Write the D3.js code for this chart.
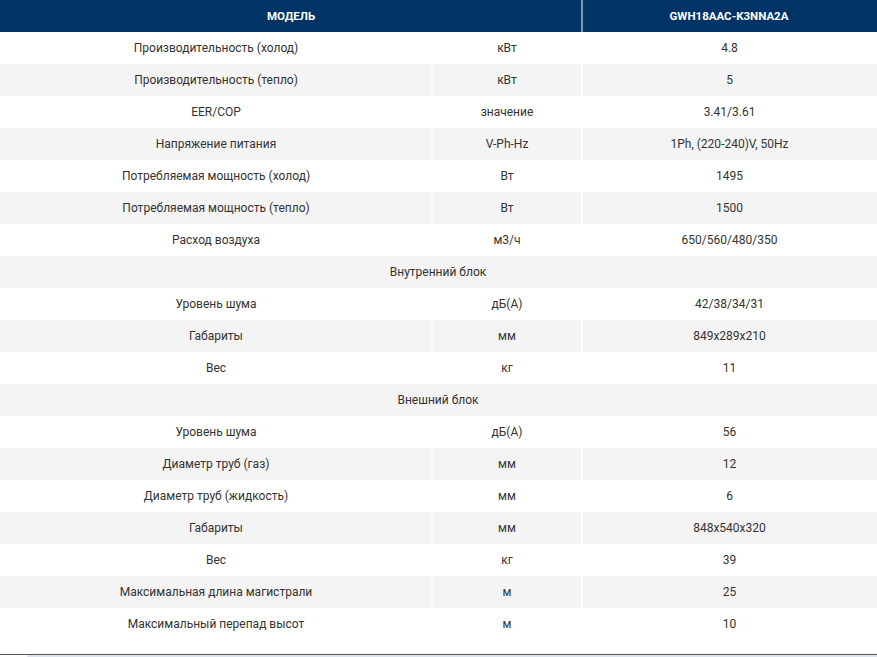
<!DOCTYPE html><html><head><meta charset="utf-8"><script src="https://cdn.jsdelivr.net/npm/d3@7"></script>
<style>body{margin:0;background:#fff}</style></head><body><svg id="c" width="877" height="657"></svg>
<script>
const headers=["МОДЕЛЬ","GWH18AAC-K3NNA2A"];
const params=["Производительность (холод)","Производительность (тепло)","EER/COP","Напряжение питания","Потребляемая мощность (холод)","Потребляемая мощность (тепло)","Расход воздуха","Внутренний блок","Уровень шума","Габариты","Вес","Внешний блок","Уровень шума","Диаметр труб (газ)","Диаметр труб (жидкость)","Габариты","Вес","Максимальная длина магистрали","Максимальный перепад высот"];
const units=["кВт","кВт","значение","V-Ph-Hz","Вт","Вт","м3/ч",null,"дБ(А)","мм","кг",null,"дБ(А)","мм","мм","мм","кг","м","м"];
const values=["4.8","5","3.41/3.61","1Ph, (220-240)V, 50Hz","1495","1500","650/560/480/350",null,"42/38/34/31","849x289x210","11",null,"56","12","6","848x540x320","39","25","10"];
const svg=d3.select("#c");
const y=d3.scaleBand().domain(d3.range(params.length)).range([32,640]);
const x=d3.scaleOrdinal().domain(["p","u","v"]).range([0,432,582]);
const xr={p:432,u:582,v:877};
svg.append("rect").attr("x",0).attr("y",0).attr("width",877).attr("height",32).attr("fill","#003366");
svg.append("line").attr("x1",582).attr("x2",582).attr("y1",0).attr("y2",32).attr("stroke","#fff");
svg.append("text").attr("x",291).attr("y",20).text(headers[0]);
svg.append("text").attr("x",729).attr("y",20).text(headers[1]);
svg.selectAll("text").attr("fill","#fff").attr("text-anchor","middle").attr("font-family","Roboto").attr("font-weight","bold").attr("font-size",11.5);
const g=svg.append("g").attr("font-family","Roboto").attr("font-size",12).attr("fill","#333").attr("text-anchor","middle");
params.forEach((p,i)=>{
  const yy=y(i),h=y.bandwidth();
  g.append("rect").attr("x",0).attr("y",yy).attr("width",877).attr("height",h).attr("fill",i%2?"#f4f4f4":"#fff");
  if(units[i]===null){
    g.append("text").attr("x",438).attr("y",yy+h/2+4).text(p);
  } else {
    [432,582].forEach(xx=>g.append("line").attr("x1",xx).attr("x2",xx).attr("y1",yy).attr("y2",yy+h).attr("stroke","#fff").attr("stroke-width",1.5));
    g.append("text").attr("x",(x("p")+xr.p)/2).attr("y",yy+h/2+4).text(p);
    g.append("text").attr("x",(x("u")+xr.u)/2).attr("y",yy+h/2+4).text(units[i]);
    g.append("text").attr("x",(x("v")+xr.v)/2).attr("y",yy+h/2+4).text(values[i]);
  }
});
svg.append("line").attr("x1",0).attr("x2",877).attr("y1",654.5).attr("y2",654.5).attr("stroke","#555");
svg.append("rect").attr("x",27).attr("y",655).attr("width",850).attr("height",2).attr("fill","#dde4f0");
</script></body></html>
